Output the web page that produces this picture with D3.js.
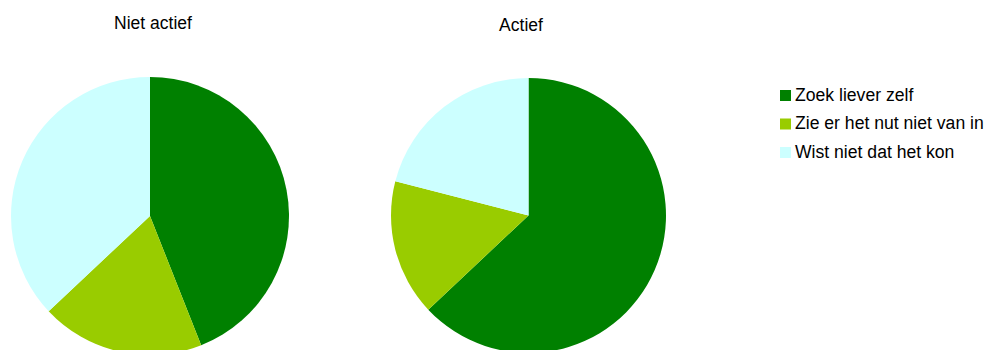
<!DOCTYPE html>
<html>
<head>
<meta charset="utf-8">
<script src="https://cdn.jsdelivr.net/npm/d3@7"></script>
<style>
  html, body { margin: 0; padding: 0; background: #fff; }
  svg { display: block; font-family: "Liberation Sans", Arial, sans-serif; }
</style>
</head>
<body>
<svg id="chart" width="991" height="350"></svg>
<script>
// Reasons for not using the service, split by activity group (percent)
const categories = ["Zoek liever zelf", "Zie er het nut niet van in", "Wist niet dat het kon"];
const groups = ["Niet actief", "Actief"];
const nietActief = [44, 19, 37];
const actief = [63, 16, 21];
const colors = ["#008000", "#99CC00", "#CCFFFF"];

const svg = d3.select("#chart");
const color = d3.scaleOrdinal().domain(categories).range(colors);

const pie = d3.pie().sort(null).value(d => d.value);

const panels = [
  { title: groups[0], values: nietActief, cx: 150, cy: 216, r: 139, tx: 153, ty: 29 },
  { title: groups[1], values: actief, cx: 528.5, cy: 215.5, r: 137.5, tx: 521, ty: 31 }
];

panels.forEach(p => {
  const data = categories.map((c, i) => ({ cat: c, value: p.values[i] }));
  const arc = d3.arc().innerRadius(0).outerRadius(p.r);
  const g = svg.append("g").attr("transform", `translate(${p.cx},${p.cy})`);
  g.selectAll("path")
    .data(pie(data))
    .join("path")
    .attr("d", arc)
    .attr("fill", d => color(d.data.cat));

  svg.append("text")
    .attr("x", p.tx)
    .attr("y", p.ty)
    .attr("text-anchor", "middle")
    .attr("font-size", 17.5)
    .attr("fill", "#000")
    .text(p.title);
});

// Legend
const legend = svg.append("g").attr("transform", "translate(780,90)");
const rows = legend.selectAll("g")
  .data(categories)
  .join("g")
  .attr("transform", (d, i) => `translate(0,${i * 28.5})`);
rows.append("rect")
  .attr("width", 11)
  .attr("height", 11)
  .attr("fill", d => color(d));
rows.append("text")
  .attr("x", 15)
  .attr("y", 10.5)
  .attr("font-size", 17.6)
  .attr("fill", "#000")
  .text(d => d);
</script>
</body>
</html>
